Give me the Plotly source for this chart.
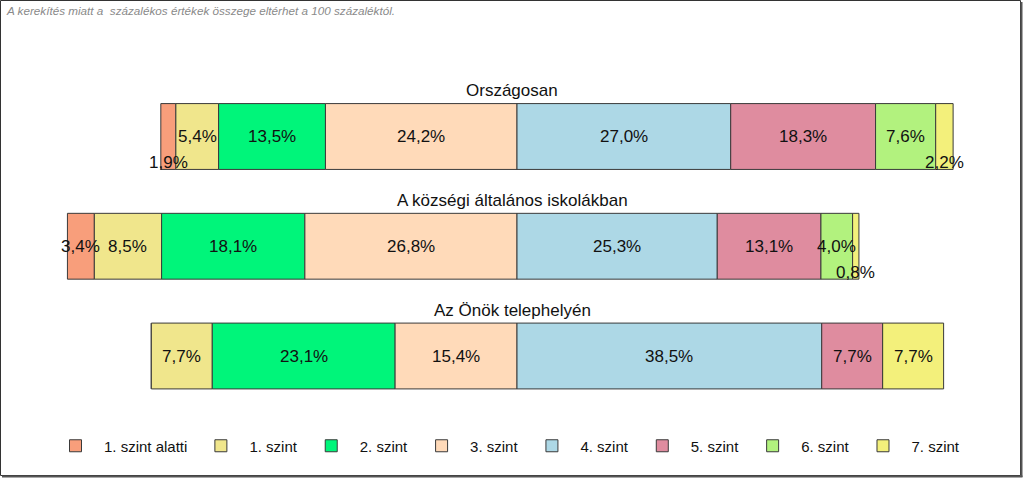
import plotly.graph_objects as go

# ---- data ----
groups = ["Országosan", "A községi általános iskolákban", "Az Önök telephelyén"]
levels = ["1. szint alatti", "1. szint", "2. szint", "3. szint",
          "4. szint", "5. szint", "6. szint", "7. szint"]
val_orszagos = [1.9, 5.4, 13.5, 24.2, 27.0, 18.3, 7.6, 2.2]
val_kozsegi = [3.4, 8.5, 18.1, 26.8, 25.3, 13.1, 4.0, 0.8]
val_telephely = [0.0, 7.7, 23.1, 15.4, 38.5, 7.7, 0.0, 7.7]
colors = ["#F89E7B", "#F0E68C", "#00F57A", "#FFDAB9",
          "#ADD8E6", "#DF8C9F", "#B2F27E", "#F3F07B"]
note = "A kerekítés miatt a  százalékos értékek összege eltérhet a 100 százaléktól."

W, H = 1024, 478
FONT = "Liberation Sans, Arial, sans-serif"
n_below = 4  # levels below "4. szint" drawn left of zero

rows = [val_orszagos, val_kozsegi, val_telephely]
ypos = list(range(len(groups)))

# bases per row: start left of zero by total of lower levels
bases = []
for vals in rows:
    start = -sum(vals[:n_below])
    b = []
    cum = start
    for v in vals:
        b.append(cum)
        cum += v
    bases.append(b)

fig = go.Figure()
for i, lev in enumerate(levels):
    fig.add_trace(go.Bar(
        y=ypos,
        x=[r[i] for r in rows],
        base=[b[i] for b in bases],
        orientation="h",
        name=lev,
        width=0.6,
        marker=dict(color=colors[i], line=dict(color="#3a3a3a", width=1)),
        hoverinfo="skip",
    ))

annotations = []
# value labels
for r, vals in enumerate(rows):
    for i, v in enumerate(vals):
        if v <= 0:
            continue
        cx = bases[r][i] + v / 2
        annotations.append(dict(
            x=cx, y=r, xref="x", yref="y",
            text=f"{v:.1f}%".replace(".", ","),
            showarrow=False,
            font=dict(size=17, color="#111111", family=FONT),
            yshift=-26 if v < 3 else 0,
        ))
# group titles
for r, g in enumerate(groups):
    annotations.append(dict(
        x=0.5, y=r, xref="paper", yref="y", text=g, showarrow=False,
        yshift=46, font=dict(size=17, color="#111111", family=FONT),
    ))
# note
annotations.append(dict(
    x=4 / W, y=1 - 2 / H, xref="paper", yref="paper", xanchor="left", yanchor="top",
    text=f"<i>{note}</i>", showarrow=False,
    font=dict(size=11.7, color="#8a8a8a", family=FONT),
))

px = 7.915  # pixels per percent
zero_px = 517
x_range = [-zero_px / px, (W - zero_px) / px]
c0, dy = 136.5, 109.75
y_range = [(H - c0) / dy, -c0 / dy]

shapes = [
    dict(type="rect", xref="paper", yref="paper",
         x0=0.5 / W, x1=1020.5 / W, y0=1 - 475.5 / H, y1=1 - 0.5 / H,
         line=dict(color="#333333", width=1)),
    dict(type="line", xref="paper", yref="paper",
         x0=1021.5 / W, x1=1021.5 / W, y0=1 - 477 / H, y1=1 - 2 / H,
         line=dict(color="#555555", width=2)),
    dict(type="line", xref="paper", yref="paper",
         x0=2 / W, x1=1022.5 / W, y0=1 - 476.5 / H, y1=1 - 476.5 / H,
         line=dict(color="#555555", width=2)),
]

fig.update_layout(
    width=W, height=H,
    margin=dict(l=0, r=0, t=0, b=0),
    barmode="overlay",
    paper_bgcolor="white", plot_bgcolor="white",
    font=dict(family=FONT, size=15, color="#111111"),
    xaxis=dict(range=x_range, visible=False, fixedrange=True),
    yaxis=dict(range=y_range, visible=False, fixedrange=True),
    showlegend=True,
    legend=dict(
        orientation="h", x=47 / W, xanchor="left", y=1 - 446 / H, yanchor="middle",
        itemwidth=47, traceorder="normal",
        font=dict(size=15, family=FONT, color="#111111"),
        bgcolor="rgba(0,0,0,0)",
    ),
    annotations=annotations,
    shapes=shapes,
)

fig.write_html(
    "out.html",
    config={"displayModeBar": False},
    post_script="document.body.style.margin='0';document.body.style.overflow='hidden';",
)
